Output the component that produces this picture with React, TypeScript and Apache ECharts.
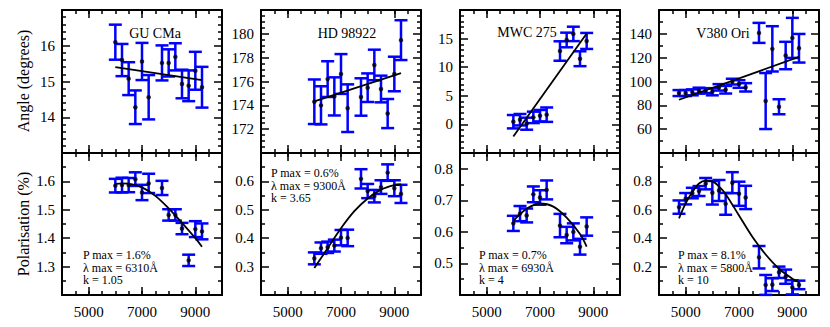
import React, { useEffect, useRef } from 'react';
import * as echarts from 'echarts';

const FONT = 'Liberation Serif';

// Wavelengths (Å)
const WL_GU = [6000, 6250, 6500, 6750, 7000, 7250, 7750, 8000, 8250, 8500, 8750, 9000, 9250];
const WL_HD = [6000, 6250, 6500, 6750, 7000, 7250, 7750, 8000, 8250, 8500, 8750, 9000, 9250];
const WL_MWC = [6000, 6250, 6500, 6750, 7000, 7250, 7750, 8000, 8250, 8500, 8750];
const WL_V380 = [4750, 5000, 5250, 5500, 5750, 6000, 6250, 6500, 6750, 7000, 7250, 7750, 8000, 8250, 8500, 8750, 9000, 9250];

// Angle (degrees)
const GU_ANG = [16.1, 15.6, 15.08, 14.28, 15.56, 14.56, 15.52, 15.52, 15.69, 14.93, 14.88, 15.3, 14.84];
const GU_ANG_ERR = [0.49, 0.45, 0.46, 0.47, 0.52, 0.62, 0.49, 0.38, 0.38, 0.4, 0.43, 0.53, 0.57];
const GU_ANG_FIT = [[6000, 15.4], [9250, 15.04]];

const HD_ANG = [174.3, 174.0, 176.2, 174.75, 176.63, 173.76, 174.7, 175.48, 177.39, 175.37, 173.31, 176.63, 179.47];
const HD_ANG_ERR = [1.87, 1.6, 1.5, 1.6, 1.67, 2.0, 1.57, 1.2, 1.28, 1.12, 1.22, 1.45, 1.67];
const HD_ANG_FIT = [[6000, 174.33], [9250, 176.71]];

const MWC_ANG = [0.47, 0.82, 0.12, 1.23, 1.52, 1.7, 12.83, 14.76, 15.82, 11.48, 14.59];
const MWC_ANG_ERR = [1.17, 1.0, 1.05, 1.0, 1.0, 1.26, 1.7, 1.28, 1.26, 1.3, 1.4];
const MWC_ANG_FIT = [[6000, -2.1], [8750, 15.88]];

const V380_ANG = [90.3, 90.3, 90.9, 92.3, 92.3, 91.4, 95.1, 93.1, 99.9, 97.9, 95.1, 140.8, 83.6, 127.4, 78.8, 121.8, 136.6, 127.9];
const V380_ANG_ERR = [2.5, 2.5, 2.5, 2.5, 2.0, 3.0, 2.7, 3.2, 2.4, 3.2, 3.5, 8.4, 23.5, 19, 6.3, 11.5, 16.8, 12];
const V380_ANG_FIT = [[4750, 84.7], [9250, 120.6]];

// Polarisation (%)
const GU_POL = [1.585, 1.587, 1.587, 1.608, 1.561, 1.593, 1.577, 1.482, 1.482, 1.434, 1.322, 1.432, 1.424];
const GU_POL_ERR = [0.024, 0.026, 0.025, 0.024, 0.027, 0.034, 0.025, 0.02, 0.02, 0.02, 0.02, 0.028, 0.028];
const GU_POL_MODEL = [[6000, 1.591], [6250, 1.593], [6500, 1.592], [7000, 1.579], [7500, 1.549], [8000, 1.505], [8500, 1.454], [9000, 1.4], [9250, 1.37]];

const HD_POL = [0.329, 0.365, 0.368, 0.374, 0.402, 0.401, 0.609, 0.566, 0.548, 0.58, 0.631, 0.576, 0.556];
const HD_POL_ERR = [0.021, 0.02, 0.02, 0.021, 0.027, 0.029, 0.034, 0.025, 0.022, 0.024, 0.029, 0.028, 0.032];
const HD_POL_MODEL = [[6000, 0.295], [6500, 0.365], [7000, 0.435], [7500, 0.495], [8000, 0.54], [8500, 0.571], [9000, 0.587], [9250, 0.589]];

const MWC_POL = [0.627, 0.658, 0.652, 0.719, 0.709, 0.733, 0.62, 0.59, 0.6, 0.553, 0.617];
const MWC_POL_ERR = [0.024, 0.024, 0.022, 0.025, 0.023, 0.03, 0.037, 0.026, 0.027, 0.025, 0.029];
const MWC_POL_MODEL = [[6000, 0.635], [6500, 0.673], [7000, 0.69], [7500, 0.68], [8000, 0.645], [8500, 0.593], [8750, 0.553]];

const V380_POL = [0.619, 0.678, 0.718, 0.732, 0.784, 0.72, 0.736, 0.642, 0.791, 0.713, 0.687, 0.266, 0.071, 0.073, 0.16, 0.129, 0.054, 0.071];
const V380_POL_ERR = [0.047, 0.04, 0.037, 0.035, 0.04, 0.083, 0.074, 0.077, 0.074, 0.085, 0.082, 0.079, 0.07, 0.045, 0.04, 0.05, 0.05, 0.03];
const V380_POL_MODEL = [[4750, 0.54], [5000, 0.645], [5250, 0.725], [5500, 0.785], [5750, 0.805], [6000, 0.8], [6250, 0.765], [6500, 0.71], [7000, 0.56], [7500, 0.41], [8000, 0.285], [8500, 0.185], [9000, 0.115], [9250, 0.09]];

// Labels
const STARS = ['GU CMa', 'HD 98922', 'MWC 275', 'V380 Ori'];
const FIT_TEXT = [
  ['P max = 1.6%', 'λ max = 6310Å', 'k = 1.05'],
  ['P max = 0.6%', 'λ max = 9300Å', 'k = 3.65'],
  ['P max = 0.7%', 'λ max = 6930Å', 'k = 4'],
  ['P max = 8.1%', 'λ max = 5800Å', 'k = 10'],
];
const X_TICKS = [5000, 7000, 9000];

// Axis ranges
const ANG_AXES = [
  { min: 13, max: 17, interval: 1, minor: 5 },
  { min: 170, max: 182, interval: 2, minor: 4 },
  { min: -5, max: 20, interval: 5, minor: 5 },
  { min: 40, max: 160, interval: 20, minor: 2 },
];
const POL_AXES = [
  { min: 1.2, max: 1.7, interval: 0.1, minor: 2 },
  { min: 0.2, max: 0.7, interval: 0.1, minor: 2 },
  { min: 0.4, max: 0.85, interval: 0.1, minor: 2 },
  { min: 0, max: 1.0, interval: 0.2, minor: 2 },
];

const COL_LEFT = [62, 261, 460, 659];
const PANEL_W = 160;
const ROW_TOP = [10, 153];
const ROW_H = [143, 142];

function renderErr(params: any, api: any) {
  const cs = params.coordSys;
  const x = api.value(0);
  const lo = api.coord([x, api.value(1)]);
  const hi = api.coord([x, api.value(2)]);
  const top = cs.y;
  const bottom = cs.y + cs.height;
  const cx = lo[0];
  const yLo = Math.min(lo[1], bottom);
  const yHi = Math.max(hi[1], top);
  const w = 6.5;
  const st = { stroke: '#0000ff', lineWidth: 2.5 };
  const ch: any[] = [{ type: 'line', shape: { x1: cx, y1: yLo, x2: cx, y2: yHi }, style: st }];
  if (lo[1] <= bottom + 0.5) ch.push({ type: 'line', shape: { x1: cx - w, y1: lo[1], x2: cx + w, y2: lo[1] }, style: st });
  if (hi[1] >= top - 0.5) ch.push({ type: 'line', shape: { x1: cx - w, y1: hi[1], x2: cx + w, y2: hi[1] }, style: st });
  return { type: 'group', children: ch };
}

function fmtNum(v: number) {
  return String(Math.round(v * 1000) / 1000);
}

function buildOption() {
  const panels = [
    { wl: WL_GU, v: GU_ANG, e: GU_ANG_ERR, fit: GU_ANG_FIT, ax: ANG_AXES[0], row: 0, col: 0 },
    { wl: WL_HD, v: HD_ANG, e: HD_ANG_ERR, fit: HD_ANG_FIT, ax: ANG_AXES[1], row: 0, col: 1 },
    { wl: WL_MWC, v: MWC_ANG, e: MWC_ANG_ERR, fit: MWC_ANG_FIT, ax: ANG_AXES[2], row: 0, col: 2 },
    { wl: WL_V380, v: V380_ANG, e: V380_ANG_ERR, fit: V380_ANG_FIT, ax: ANG_AXES[3], row: 0, col: 3 },
    { wl: WL_GU, v: GU_POL, e: GU_POL_ERR, fit: GU_POL_MODEL, ax: POL_AXES[0], row: 1, col: 0 },
    { wl: WL_HD, v: HD_POL, e: HD_POL_ERR, fit: HD_POL_MODEL, ax: POL_AXES[1], row: 1, col: 1 },
    { wl: WL_MWC, v: MWC_POL, e: MWC_POL_ERR, fit: MWC_POL_MODEL, ax: POL_AXES[2], row: 1, col: 2 },
    { wl: WL_V380, v: V380_POL, e: V380_POL_ERR, fit: V380_POL_MODEL, ax: POL_AXES[3], row: 1, col: 3 },
  ];
  const line = { color: '#000', width: 2 };
  const tickLine = { color: '#000', width: 1.5 };
  const grid: any[] = [];
  const xAxis: any[] = [];
  const yAxis: any[] = [];
  const series: any[] = [];

  panels.forEach((p, i) => {
    grid.push({ left: COL_LEFT[p.col], top: ROW_TOP[p.row], width: PANEL_W, height: ROW_H[p.row], outerBoundsMode: 'none', containLabel: false });
    const xb = { type: 'value', gridIndex: i, min: 4000, max: 10000, splitLine: { show: false } };
    for (const pos of ['bottom', 'top']) {
      xAxis.push({
        ...xb, position: pos,
        axisLine: { show: true, onZero: false, lineStyle: line },
        axisTick: { show: true, inside: true, length: 8, customValues: X_TICKS, lineStyle: tickLine },
        axisLabel: {
          show: pos === 'bottom' && p.row === 1, customValues: X_TICKS,
          formatter: (v: number) => String(v),
          fontFamily: FONT, fontSize: 15, color: '#000', margin: 9,
        },
      });
      xAxis.push({
        ...xb, position: pos, interval: 500,
        axisLine: { show: false, onZero: false },
        axisTick: { show: true, inside: true, length: 4, lineStyle: tickLine },
        axisLabel: { show: false },
      });
    }
    for (const pos of ['left', 'right']) {
      yAxis.push({
        type: 'value', gridIndex: i, position: pos,
        min: p.ax.min, max: p.ax.max, interval: p.ax.interval,
        splitLine: { show: false },
        axisLine: { show: true, onZero: false, lineStyle: line },
        axisTick: { show: true, inside: true, length: 8, lineStyle: tickLine },
        minorTick: { show: true, splitNumber: p.ax.minor, length: 4, lineStyle: tickLine },
        axisLabel: {
          show: pos === 'left', showMinLabel: false, showMaxLabel: false,
          formatter: fmtNum,
          fontFamily: FONT, fontSize: 15, color: '#000', margin: 7,
        },
      });
    }
    const xi = i * 4;
    const yi = i * 2;
    series.push({
      type: 'custom', xAxisIndex: xi, yAxisIndex: yi, z: 2,
      renderItem: renderErr,
      encode: { x: 0, y: [1, 2] },
      data: p.wl.map((w, k) => [w, p.v[k] - p.e[k], p.v[k] + p.e[k]]),
    });
    series.push({
      type: 'line', xAxisIndex: xi, yAxisIndex: yi, z: 3,
      data: p.fit, symbol: 'none', smooth: p.row === 1 ? 0.35 : false,
      lineStyle: { color: '#000', width: 1.8 },
    });
    series.push({
      type: 'scatter', xAxisIndex: xi, yAxisIndex: yi, z: 4,
      data: p.wl.map((w, k) => [w, p.v[k]]),
      symbol: 'circle', symbolSize: 4.5, itemStyle: { color: '#000' },
    });
  });

  const titlePos = [[155, 33], [347, 33], [527, 32], [723, 33]];
  const notePos = [[83, 255], [271, 173], [479, 255], [678, 255]];
  const graphic: any[] = [];
  STARS.forEach((s, k) => {
    graphic.push({
      type: 'text', x: titlePos[k][0], y: titlePos[k][1], z: 10,
      style: { text: s, fontFamily: FONT, fontSize: 14, fill: '#000', align: 'center', verticalAlign: 'middle' },
    });
  });
  FIT_TEXT.forEach((lines, k) => {
    lines.forEach((t, j) => {
      graphic.push({
        type: 'text', x: notePos[k][0], y: notePos[k][1] + j * 12.5, z: 10,
        style: { text: t, fontFamily: FONT, fontSize: 12, fill: '#000', align: 'left', verticalAlign: 'middle' },
      });
    });
  });
  graphic.push({
    type: 'text', x: 23, y: 81, rotation: Math.PI / 2, z: 10,
    style: { text: 'Angle (degrees)', fontFamily: FONT, fontSize: 16, fill: '#000', align: 'center', verticalAlign: 'middle' },
  });
  graphic.push({
    type: 'text', x: 23, y: 224, rotation: Math.PI / 2, z: 10,
    style: { text: 'Polarisation (%)', fontFamily: FONT, fontSize: 16, fill: '#000', align: 'center', verticalAlign: 'middle' },
  });

  return {
    animation: false,
    backgroundColor: '#fff',
    textStyle: { fontFamily: FONT },
    grid, xAxis, yAxis, series, graphic,
  };
}

export default function App() {
  const ref = useRef<HTMLDivElement>(null);
  useEffect(() => {
    const chart = echarts.init(ref.current!, null, { renderer: 'svg' });
    chart.setOption(buildOption() as any);
    return () => chart.dispose();
  }, []);
  return <div ref={ref} style={{ position: 'fixed', left: 0, top: 0, width: 830, height: 327 }} />;
}
